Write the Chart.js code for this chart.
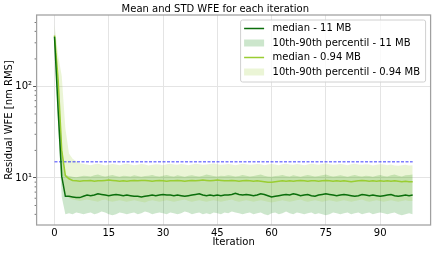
<!DOCTYPE html>
<html>
<head>
<meta charset="utf-8">
<script src="https://cdn.jsdelivr.net/npm/chart.js@4"></script>
<style>
  html, body { margin: 0; padding: 0; background: #fff; }
  canvas { display: block; }
</style>
</head>
<body>
<canvas id="myChart" width="436" height="254"></canvas>
<script>
// iterations 0..99
const iterations = Array.from({ length: 100 }, (_, i) => i);

const medianLarge = [
  350, 55, 10.4, 6.3, 6.3, 6.2, 6.1, 6.1, 6.3, 6.5,
  6.4, 6.5, 6.7, 6.6, 6.5, 6.4, 6.5, 6.6, 6.5, 6.4,
  6.5, 6.4, 6.3, 6.3, 6.2, 6.3, 6.4, 6.5, 6.4, 6.5,
  6.6, 6.5, 6.5, 6.4, 6.5, 6.4, 6.3, 6.4, 6.5, 6.6,
  6.7, 6.5, 6.4, 6.5, 6.4, 6.5, 6.4, 6.5, 6.5, 6.6,
  6.8, 6.6, 6.5, 6.6, 6.5, 6.4, 6.5, 6.7, 6.6, 6.4,
  6.2, 6.3, 6.4, 6.5, 6.6, 6.5, 6.7, 6.6, 6.4, 6.5,
  6.6, 6.4, 6.3, 6.5, 6.6, 6.7, 6.6, 6.5, 6.4, 6.5,
  6.6, 6.5, 6.4, 6.3, 6.4, 6.6, 6.5, 6.4, 6.5, 6.4,
  6.3, 6.4, 6.5, 6.6, 6.4, 6.3, 6.4, 6.5, 6.4, 6.5
];
const p90Large = [
  400, 110, 22, 10.8, 10.5, 10.3, 10.2, 10.4, 10.6, 10.5,
  10.4, 10.7, 10.9, 10.6, 10.4, 10.6, 10.8, 10.5, 10.3, 10.6,
  10.5, 10.4, 10.7, 10.5, 10.3, 10.5, 10.6, 10.8, 10.5, 10.4,
  10.6, 10.8, 10.5, 10.4, 10.7, 10.5, 10.3, 10.6, 10.7, 10.5,
  10.4, 10.6, 10.9, 10.7, 10.5, 10.4, 10.6, 10.5, 10.7, 10.6,
  10.4, 10.5, 10.8, 10.6, 10.4, 10.5, 10.7, 10.9, 10.6, 10.4,
  10.3, 10.5, 10.6, 10.8, 10.5, 10.4, 10.7, 10.5, 10.3, 10.6,
  10.8, 10.6, 10.4, 10.5, 10.7, 10.9, 10.6, 10.4, 10.5, 10.7,
  10.5, 10.3, 10.6, 10.8, 10.5, 10.4, 10.6, 10.5, 10.3, 10.6,
  10.8, 10.5, 10.4, 10.7, 10.9, 10.6, 10.4, 10.7, 10.8, 10.9
];
const p10Large = [
  300, 38, 6.2, 4.0, 4.1, 4.0, 4.2, 4.1, 4.0, 4.1,
  4.2, 4.0, 4.1, 4.3, 4.2, 4.0, 3.9, 4.0, 4.2, 4.1,
  4.0, 4.1, 4.2, 4.0, 4.1, 4.3, 4.2, 4.0, 4.1, 4.2,
  4.1, 4.0, 4.2, 4.1, 4.0, 4.1, 4.3, 4.2, 4.0, 4.1,
  4.2, 4.0, 4.1, 4.0, 4.2, 4.1, 4.0, 4.2, 4.1, 4.3,
  4.2, 4.1, 4.0, 4.1, 4.2, 4.0, 4.1, 4.2, 4.0, 3.9,
  4.1, 4.2, 4.0, 4.1, 4.3, 4.1, 4.0, 4.2, 4.1, 4.0,
  4.1, 4.2, 4.0, 4.1, 4.0, 3.9, 4.0, 4.2, 4.1, 4.0,
  4.1, 4.2, 4.0, 4.1, 4.2, 4.0, 4.1, 4.2, 4.0, 4.1,
  4.2, 4.1, 4.0, 4.1, 4.2, 4.0, 3.9, 4.0, 4.1, 4.0
];
const medianSmall = [
  360, 120, 20, 10.6, 9.8, 9.4, 9.3, 9.2, 9.3, 9.3,
  9.4, 9.2, 9.3, 9.3, 9.4, 9.5, 9.4, 9.3, 9.2, 9.3,
  9.2, 9.3, 9.4, 9.3, 9.4, 9.4, 9.3, 9.2, 9.3, 9.4,
  9.3, 9.2, 9.3, 9.3, 9.4, 9.3, 9.2, 9.3, 9.4, 9.3,
  9.4, 9.5, 9.4, 9.3, 9.4, 9.5, 9.4, 9.3, 9.3, 9.4,
  9.3, 9.2, 9.3, 9.4, 9.3, 9.2, 9.3, 9.2, 9.1, 9.0,
  9.0, 9.1, 9.2, 9.3, 9.2, 9.3, 9.2, 9.3, 9.4, 9.3,
  9.2, 9.3, 9.3, 9.2, 9.3, 9.4, 9.3, 9.2, 9.3, 9.2,
  9.3, 9.2, 9.1, 9.2, 9.3, 9.4, 9.3, 9.2, 9.3, 9.2,
  9.3, 9.2, 9.3, 9.2, 9.3, 9.2, 9.1, 9.2, 9.1, 9.1
];
const p90Small = [
  475, 220, 130, 35, 18.5, 16.2, 15.2, 14.5, 14.2, 14.0,
  13.8, 14.1, 14.3, 14.0, 13.7, 13.9, 14.2, 14.0, 13.8, 14.1,
  14.3, 14.0, 13.8, 13.9, 14.2, 14.0, 13.7, 13.9, 14.1, 14.0,
  13.8, 14.1, 14.3, 14.0, 13.9, 14.2, 14.0, 13.8, 14.0, 14.3,
  14.1, 13.9, 14.0, 14.2, 14.4, 14.1, 13.9, 14.0, 14.2, 14.0,
  13.8, 14.0, 14.3, 14.1, 13.9, 14.0, 14.2, 14.1, 13.8, 14.0,
  14.2, 14.0, 13.8, 14.1, 14.3, 14.0, 13.9, 14.2, 14.0, 13.8,
  14.0, 14.3, 14.1, 13.9, 14.2, 14.4, 14.1, 13.9, 14.0, 14.2,
  14.0, 13.8, 14.1, 14.3, 14.0, 13.9, 14.1, 14.0, 13.7, 13.9,
  14.1, 14.0, 13.8, 14.0, 13.7, 13.6, 13.8, 13.9, 13.7, 13.8
];
const p10Small = [
  250, 70, 12, 6.6, 6.0, 5.8, 5.7, 5.6, 5.7, 5.8,
  5.7, 5.6, 5.5, 5.7, 5.8, 5.6, 5.5, 5.6, 5.7, 5.6,
  5.5, 5.6, 5.7, 5.6, 5.5, 5.4, 5.6, 5.7, 5.6, 5.5,
  5.6, 5.7, 5.6, 5.5, 5.6, 5.7, 5.8, 5.6, 5.5, 5.6,
  5.7, 5.6, 5.5, 5.6, 5.7, 5.6, 5.5, 5.6, 5.7, 5.8,
  5.6, 5.5, 5.6, 5.7, 5.6, 5.5, 5.6, 5.7, 5.6, 5.5,
  5.4, 5.5, 5.6, 5.7, 5.6, 5.5, 5.6, 5.7, 5.8, 5.6,
  5.5, 5.6, 5.7, 5.6, 5.5, 5.6, 5.7, 5.6, 5.5, 5.6,
  5.7, 5.6, 5.5, 5.6, 5.7, 5.8, 5.6, 5.5, 5.6, 5.7,
  5.6, 5.5, 5.6, 5.7, 5.6, 5.5, 5.6, 5.7, 5.6, 5.6
];
const threshold = 15;
const xTicks = [0, 15, 30, 45, 60, 75, 90];
const yTicks = [10, 100];
const yTickLabels = ["10\u00b9", "10\u00b2"];
const yMinorTicks = [4, 5, 6, 7, 8, 9, 20, 30, 40, 50, 60, 70, 80, 90, 200, 300, 400, 500];

const darkGreen = "#0b6e0b";
const darkBand = "rgba(0, 128, 0, 0.2)";
const lightGreen = "#9acd32";
const lightBand = "rgba(154, 205, 50, 0.2)";

const legendItems = [
  { text: "median - 11 MB", type: "line", color: darkGreen },
  { text: "10th-90th percentil - 11 MB", type: "patch", color: darkBand },
  { text: "median - 0.94 MB", type: "line", color: lightGreen },
  { text: "10th-90th percentil - 0.94 MB", type: "patch", color: lightBand }
];

Chart.defaults.font.family = "'DejaVu Sans', sans-serif";
Chart.defaults.font.size = 10;
Chart.defaults.color = "#000";

const toPoints = arr => arr.map((v, i) => ({ x: iterations[i], y: v }));

const lineSet = (label, data, color) => ({
  label: label, data: toPoints(data), borderColor: color, borderWidth: 1.5,
  pointRadius: 0, fill: false, tension: 0
});
const edgeSet = (label, data, fill, bg) => ({
  label: label, data: toPoints(data), borderColor: "transparent", borderWidth: 0,
  pointRadius: 0, fill: fill, backgroundColor: bg, tension: 0
});

// spines, minor ticks and the legend box
const extras = {
  id: "extras",
  afterDatasetsDraw(chart) {
    const { ctx, chartArea: a, scales } = chart;
    ctx.save();
    ctx.strokeStyle = "#555";
    ctx.lineWidth = 0.8;
    yMinorTicks.forEach(v => {
      const y = scales.y.getPixelForValue(v);
      if (y < a.top || y > a.bottom) return;
      ctx.beginPath();
      ctx.moveTo(a.left - 2, y);
      ctx.lineTo(a.left, y);
      ctx.stroke();
    });
    ctx.strokeStyle = "#a0a0a0";
    ctx.lineWidth = 1.25;
    ctx.strokeRect(a.left, a.top, a.right - a.left, a.bottom - a.top);

    // legend
    const bx = a.right - 190, by = a.top + 5, bw = 185, bh = 62;
    ctx.beginPath();
    ctx.roundRect(bx, by, bw, bh, 2);
    ctx.fillStyle = "rgba(255,255,255,0.8)";
    ctx.fill();
    ctx.strokeStyle = "#d0d0d0";
    ctx.lineWidth = 1;
    ctx.stroke();
    ctx.font = "10px 'DejaVu Sans', sans-serif";
    ctx.textBaseline = "middle";
    ctx.textAlign = "left";
    legendItems.forEach((it, i) => {
      const cy = by + 8.5 + i * 14.5;
      if (it.type === "line") {
        ctx.strokeStyle = it.color;
        ctx.lineWidth = 1.5;
        ctx.beginPath();
        ctx.moveTo(bx + 3.5, cy);
        ctx.lineTo(bx + 23.5, cy);
        ctx.stroke();
      } else {
        ctx.fillStyle = it.color;
        ctx.fillRect(bx + 3.5, cy - 3.5, 20, 7);
      }
      ctx.fillStyle = "#000";
      ctx.fillText(it.text, bx + 32, cy);
    });
    ctx.restore();
  }
};

const ctx = document.getElementById("myChart").getContext("2d");
new Chart(ctx, {
  type: "line",
  data: {
    datasets: [
      lineSet("median - 11 MB", medianLarge, darkGreen),
      lineSet("median - 0.94 MB", medianSmall, lightGreen),
      {
        label: "threshold",
        data: [{ x: iterations[0], y: threshold }, { x: iterations[iterations.length - 1], y: threshold }],
        borderColor: "rgba(0, 0, 255, 0.5)", borderWidth: 1.5, borderDash: [3, 1.5],
        pointRadius: 0, fill: false
      },
      edgeSet("p90 - 0.94 MB", p90Small, "+1", lightBand),
      edgeSet("p10 - 0.94 MB", p10Small, false, lightBand),
      edgeSet("p90 - 11 MB", p90Large, "+1", darkBand),
      edgeSet("p10 - 11 MB", p10Large, false, darkBand)
    ]
  },
  options: {
    responsive: false,
    animation: false,
    devicePixelRatio: 1,
    layout: { padding: { left: 0, top: 0, right: 5.4, bottom: 0 } },
    plugins: {
      legend: { display: false },
      tooltip: { enabled: false },
      title: {
        display: true,
        text: "Mean and STD WFE for each iteration",
        font: { size: 10, weight: "normal" },
        color: "#000",
        padding: { top: 3, bottom: 0 }
      }
    },
    scales: {
      x: {
        type: "linear",
        min: -4.95,
        max: 103.95,
        afterBuildTicks: s => { s.ticks = xTicks.map(v => ({ value: v })); },
        afterFit: s => { s.height = 29; },
        ticks: { padding: 2.5, maxRotation: 0, autoSkip: false, font: { size: 10 }, color: "#000" },
        grid: { color: "#e4e4e4", drawTicks: false },
        border: { display: false },
        title: { display: true, text: "Iteration", font: { size: 10 }, color: "#000", padding: { top: 0, bottom: 6 } }
      },
      y: {
        type: "logarithmic",
        min: 3.06,
        max: 604,
        afterBuildTicks: s => { s.ticks = yTicks.map(v => ({ value: v })); },
        afterFit: s => { s.width = 36.6; },
        ticks: {
          padding: 1,
          font: { size: 10 },
          color: "#000",
          callback: v => yTickLabels[yTicks.indexOf(v)]
        },
        grid: { color: "#e4e4e4", drawTicks: true, tickLength: 3.5, tickColor: "#555" },
        border: { display: false },
        title: { display: true, text: "Residual WFE [nm RMS]", font: { size: 10 }, color: "#000", padding: { top: 3.5, bottom: 0 } }
      }
    }
  },
  plugins: [extras]
});
</script>
</body>
</html>
